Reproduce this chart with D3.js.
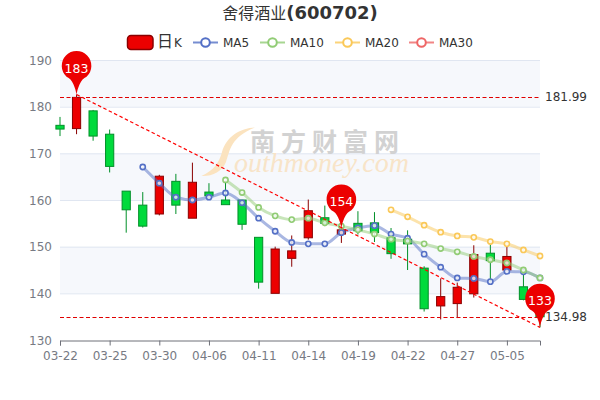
<!DOCTYPE html>
<html><head><meta charset="utf-8">
<script src="https://cdn.jsdelivr.net/npm/d3@7"></script>
<style>html,body{margin:0;padding:0;background:#fff}svg{display:block}text{font-family:"DejaVu Sans",sans-serif}</style>
</head><body><div id="c"></div>
<script>
const dates=["03-22","03-23","03-24","03-25","03-28","03-29","03-30","03-31","04-01","04-06","04-07","04-08","04-11","04-12","04-13","04-14","04-15","04-18","04-19","04-20","04-21","04-22","04-25","04-26","04-27","04-28","04-29","05-05","05-06","05-09"];
const tickLabels=["03-22","03-25","03-30","04-06","04-11","04-14","04-19","04-22","04-27","05-05"];
const opens=[176,175.3,179.1,174.1,161.9,158.9,157,164,156.1,161.7,160,160,152,140,147.5,151.9,156.2,152.7,155,155.1,151.9,151.6,145.4,137.3,137.8,139.9,148.6,145,141.4,138];
const closes=[175.2,181.99,173.7,167.2,157.9,154.4,165.1,158.9,163.8,160.9,159,154.8,142.4,149.5,149.1,157.7,155,153.6,153.4,153,148.5,150.6,136.7,139.3,141.3,148.3,147,147.9,138.7,134.98];
const lows=[173.7,174.1,172.7,165.9,153,154.1,156.7,157,156.1,160.4,159,153.6,141,140,145.7,151.5,154.4,150.8,152.6,151,147.4,145,136.1,134.4,134.7,139.1,142.6,145,138.5,132.7];
const highs=[177.8,182.6,179.3,175.1,161.9,161.7,165.4,165.6,168,163.6,164,160,152,150,152.4,160.1,158.8,154,157.6,157.4,154,153.5,145.8,143.2,142.3,150.3,150.5,150,144.3,138];
const ma5=[null,null,null,null,null,167.07,163.6,160.6,160,160.6,161.5,159.4,156.1,153.3,150.9,150.6,150.6,153,154,154.5,152.7,151.8,148.4,145.6,143.3,143.2,142.5,144.7,144.6,143.3];
const ma10=[null,null,null,null,null,null,null,null,null,null,164.3,161.6,158.4,156.6,155.8,156.1,155.1,154.4,153.6,152.7,151.6,151.2,150.6,149.6,148.9,147.9,147.2,146.5,145,143.3];
const ma20=[null,null,null,null,null,null,null,null,null,null,null,null,null,null,null,null,null,null,null,null,157.9,156.4,154.6,153.1,152.3,152,151.1,150.6,149.3,148];
const yTicks=[130,140,150,160,170,180,190];
const refLines=[181.99,134.98];
const title=["舍得酒业","(600702)"];
const seriesNames=["MA5","MA10","MA20","MA30"];
const seriesColors=["#5470c6","#91cc75","#fac858","#ee6666"];
const maSeries=[ma5,ma10,ma20,[]];

const svg=d3.select("#c").append("svg").attr("width",600).attr("height",400);
const x=d3.scalePoint().domain(d3.range(dates.length)).range([60,540]);
const y=d3.scaleLinear().domain([130,190]).range([340,60]);
const X=i=>x(i);

// split areas
yTicks.slice(0,-1).forEach((t,i)=>{ if(i%2===0) return;
  svg.append("rect").attr("x",60).attr("width",480).attr("y",y(t+10)).attr("height",y(t)-y(t+10)).attr("fill","#f6f8fc");
});
// grid
svg.selectAll(".g").data(yTicks.slice(1)).join("line").attr("x1",60).attr("x2",540)
 .attr("y1",d=>y(d)+.5).attr("y2",d=>y(d)+.5).attr("stroke","#e0e6f1");

// watermark
const wm=svg.append("g");
wm.append("path").attr("d","M255 127.5C240 128 226 137 222 152C219 163 214 170 201.5 176C212 176.5 222 172 226 162C230 150 231 137 255 127.5Z").attr("fill","#fbe3bf");
wm.append("text").attr("x",250).attr("y",151).attr("font-size",25).attr("font-weight",700).attr("letter-spacing",6).attr("fill","#d2d2d2").style("font-family","'Noto Sans CJK SC'").attr("text-anchor","start").text("南方财富网");
wm.append("text").attr("x",234).attr("y",172).attr("font-size",28).attr("font-style","italic").attr("fill","#f8e4c8").style("font-family","'Liberation Serif'").attr("text-anchor","start").text("outhmoney.com");

// y labels
svg.selectAll(".yl").data(yTicks).join("text").attr("x",52).attr("y",d=>y(d)+4.5).attr("text-anchor","end")
 .attr("font-size",12).attr("fill","#777a83").text(d=>d);

// x axis
const tickIdx=tickLabels.map(l=>dates.indexOf(l));
const ax=svg.append("g").attr("transform","translate(0,340.5)").call(
  d3.axisBottom(x).tickValues(tickIdx).tickFormat(i=>dates[i]).tickSize(5).tickPadding(6));
ax.select(".domain").attr("stroke","#6e7079").attr("stroke-width",1);
ax.selectAll(".tick line").attr("stroke","#6e7079");
ax.selectAll("text").attr("fill","#777a83").attr("font-size",12).style("font-family","'DejaVu Sans'");
ax.attr("font-size",12);

// candles
const bw=8.2;
const UP="#ec0000",UPB="#8a0000",DN="#00da3c",DNB="#008f28";
const cg=svg.append("g");
dates.forEach((d,i)=>{
  const up=closes[i]>=opens[i], top=Math.max(opens[i],closes[i]), bot=Math.min(opens[i],closes[i]);
  const c=up?UPB:DNB;
  cg.append("line").attr("x1",X(i)).attr("x2",X(i)).attr("y1",y(highs[i])).attr("y2",y(top)).attr("stroke",c);
  cg.append("line").attr("x1",X(i)).attr("x2",X(i)).attr("y1",y(bot)).attr("y2",y(lows[i])).attr("stroke",c);
  cg.append("rect").attr("x",X(i)-bw/2).attr("width",bw).attr("y",y(top)).attr("height",y(bot)-y(top))
    .attr("fill",up?UP:DN).attr("stroke",c).attr("stroke-width",1);
});

// MA lines
const line=d3.line().defined(d=>d!=null).x((d,i)=>X(i)).y(d=>y(d)).curve(d3.curveMonotoneX);
maSeries.forEach((s,k)=>{
  if(!s.length) return;
  svg.append("path").attr("d",line(s)).attr("fill","none").attr("stroke",seriesColors[k]).attr("stroke-width",3).attr("stroke-opacity",.5);
  svg.append("g").selectAll("circle").data(s.map((v,i)=>[v,i]).filter(d=>d[0]!=null)).join("circle")
    .attr("cx",d=>X(d[1])).attr("cy",d=>y(d[0])).attr("r",2.6).attr("fill","#fff").attr("fill-opacity",.75).attr("stroke",seriesColors[k]).attr("stroke-width",1.6);
});

// reference lines
svg.selectAll(".ref").data(refLines).join("line").attr("x1",60).attr("x2",539)
 .attr("y1",d=>Math.round(y(d))+.5).attr("y2",d=>Math.round(y(d))+.5).attr("stroke","#e00000").attr("stroke-width",1.2).attr("stroke-dasharray","4,2.5");
svg.selectAll(".refl").data(refLines).join("text").attr("x",545).attr("y",d=>y(d)+4).attr("font-size",12).attr("fill","#333").attr("text-anchor","start").text(d=>d);

// diagonal
const iMax=highs.indexOf(d3.max(highs)), iMin=lows.indexOf(d3.min(lows));
svg.append("line").attr("x1",X(iMax)).attr("y1",y(highs[iMax])).attr("x2",X(iMin)).attr("y2",y(lows[iMin]))
 .attr("stroke","#f00").attr("stroke-width",1.2).attr("stroke-dasharray","3.5,2.5");

// pins
function pin(i,v,label){
  const tx=X(i),ty=y(v),r=14.8,cy=ty-28.5;
  const g=svg.append("g");
  g.append("path").attr("d",`M${tx} ${ty}C${tx-1} ${ty-6} ${tx-4} ${cy+r-2} ${tx-10} ${cy+r*.72}A${r} ${r} 0 1 1 ${tx+10} ${cy+r*.72}C${tx+4} ${cy+r-2} ${tx+1} ${ty-6} ${tx} ${ty}Z`).attr("fill",UP);
  g.append("text").attr("x",tx).attr("y",cy+6.5).attr("text-anchor","middle").attr("font-size",12.5).attr("fill","#fff").text(label);
}
pin(iMax,highs[iMax],Math.round(highs[iMax]));
pin(17,154.0,"154");
pin(iMin,lows[iMin],Math.round(lows[iMin]));

// title
const t=svg.append("text").attr("x",300).attr("y",19).attr("text-anchor","middle").attr("fill","#333");
t.append("tspan").attr("font-size",16).style("font-family","'Noto Sans CJK SC'").text(title[0]);
t.append("tspan").attr("font-size",18).attr("font-weight",700).text(title[1]);

// legend
const lg=svg.append("g");
lg.append("rect").attr("x",127.5).attr("y",35.5).attr("width",25.5).attr("height",14).attr("rx",3.5).attr("fill",UP).attr("stroke",UPB).attr("stroke-width",1.5);
lg.append("text").attr("x",157).attr("y",47).attr("font-size",16).attr("fill","#333").style("font-family","'Noto Sans CJK SC'").text("日");
lg.append("text").attr("x",174).attr("y",47).attr("font-size",12).attr("fill","#333").text("K");
const lx=[193,260,335,409];
seriesNames.forEach((n,k)=>{
  lg.append("line").attr("x1",lx[k]).attr("x2",lx[k]+25).attr("y1",42.5).attr("y2",42.5).attr("stroke",seriesColors[k]).attr("stroke-width",2).attr("stroke-opacity",.8);
  lg.append("circle").attr("cx",lx[k]+12.5).attr("cy",42.5).attr("r",4.3).attr("fill","#fff").attr("stroke",seriesColors[k]).attr("stroke-width",2);
  lg.append("text").attr("x",lx[k]+30).attr("y",47).attr("font-size",12).attr("fill","#333").text(n);
});
</script></body></html>
